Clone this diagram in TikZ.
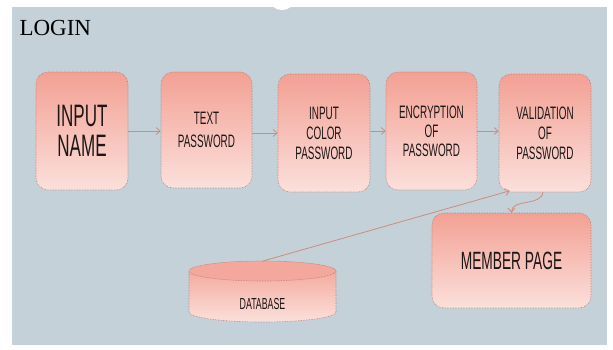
\documentclass[tikz,border=0pt]{standalone}
\usepackage{fontspec}
\setmainfont{Liberation Serif}
\newfontfamily\agency[FakeStretch=0.55]{Liberation Sans}
\usetikzlibrary{arrows.meta}
\definecolor{bgc}{RGB}{197,209,216}
\definecolor{boxtop}{RGB}{243,160,148}
\definecolor{boxbot}{RGB}{251,224,219}
\definecolor{edgec}{RGB}{178,122,112}
\definecolor{arrc}{RGB}{205,140,128}
\definecolor{txt}{RGB}{28,22,22}
\tikzset{
  proc/.style={rounded corners=12pt, draw=edgec, densely dotted, line width=0.6pt,
    top color=boxtop, bottom color=boxbot, text=txt, align=center, inner sep=0pt},
  arr/.style={draw=arrc, line width=0.8pt, -{Straight Barb[length=4pt,width=7pt]}},
  smalltxt/.style={font=\agency\fontsize{18}{20}\selectfont},
}
\begin{document}
\begin{tikzpicture}[x=1pt,y=1pt]
\useasboundingbox (0,0) rectangle (613,-349);
\fill[bgc] (12,-7) rectangle (607,-345);
\fill[white] (282,0) ellipse (12 and 10);

\node[anchor=base west, text=black, font=\fontsize{23}{23}\selectfont] (title) at (16,-35) {LOGIN};

\node[proc, minimum width=92, minimum height=118, font=\agency\fontsize{31}{30}\selectfont] (n1) at (82,-131) {INPUT\\NAME};
\node[proc, minimum width=91, minimum height=116, font=\agency\fontsize{18}{23}\selectfont] (n2) at (206.5,-130) {TEXT\\PASSWORD};
\node[proc, smalltxt, minimum width=92, minimum height=118] (n3) at (324,-133) {INPUT\\COLOR\\PASSWORD};
\node[proc, minimum width=91, minimum height=118, font=\agency\fontsize{18}{19}\selectfont] (n4) at (431.5,-131) {ENCRYPTION\\OF\\PASSWORD};
\node[proc, smalltxt, minimum width=92, minimum height=118] (n5) at (545,-133) {VALIDATION\\OF\\PASSWORD};
\node[proc, minimum width=159, minimum height=95, font=\agency\fontsize{25}{25}\selectfont] (n6) at (511.5,-260.5) {MEMBER PAGE};

% database cylinder
\path[top color=boxtop, bottom color=boxbot] (189,-271) -- (189,-312) arc (180:360:73.5 and 10) -- (336,-271) arc (0:180:73.5 and 10) -- cycle;
\draw[edgec, densely dotted, line width=0.6pt] (189,-271) -- (189,-312) arc (180:360:73.5 and 10) -- (336,-271);
\draw[edgec, densely dotted, line width=0.6pt, fill=boxtop!92!white] (262.5,-271) ellipse (73.5 and 10);
\node[text=txt, font=\agency\fontsize{16}{16}\selectfont] (db) at (262.5,-304) {DATABASE};
\coordinate (dbtop) at (263,-261);

% connectors
\draw[arr] (n1.east) -- (n1.east -| n2.west);
\draw[arr] (n3.west -| n2.east) -- (n3.west);
\draw[arr] (n4.west -| n3.east) -- (n4.west);
\draw[arr] (n4.east) -- (n4.east -| n5.west);
\draw[arr] (dbtop) -- ([xshift=11pt,yshift=1.5pt]n5.south west);
\draw[arr] ([xshift=-2pt]n5.south) .. controls +(-2,-14) and +(0,14) .. (n6.north);
\end{tikzpicture}
\end{document}
